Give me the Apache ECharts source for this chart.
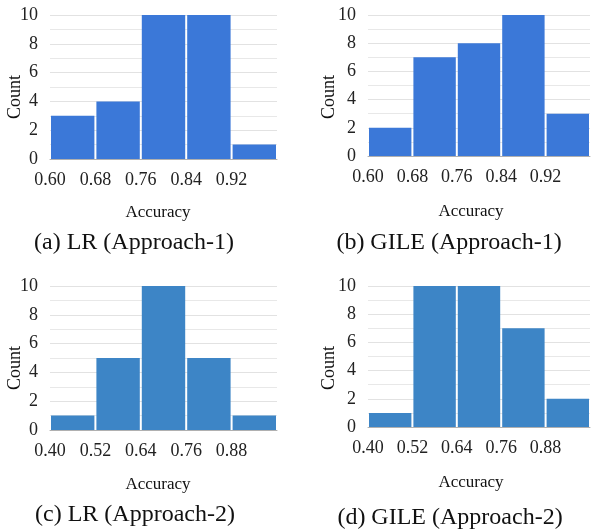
<!DOCTYPE html>
<html>
<head>
<meta charset="utf-8">
<script src="https://cdn.jsdelivr.net/npm/echarts@6/dist/echarts.min.js"></script>
<style>html,body{margin:0;padding:0;background:#fff}#c{width:593px;height:532px}</style>
</head>
<body>
<div id="c"></div>
<script>
// Tick labels (bin edges) and counts per panel
const edgesApproach1 = ['0.60', '0.68', '0.76', '0.84', '0.92', ''];
const edgesApproach2 = ['0.40', '0.52', '0.64', '0.76', '0.88', ''];
const countsLR1 = [3, 4, 10, 10, 1];
const countsGILE1 = [2, 7, 8, 10, 3];
const countsLR2 = [1, 5, 10, 5, 1];
const countsGILE2 = [1, 10, 10, 7, 2];
const captions = ['(a) LR (Approach-1)', '(b) GILE (Approach-1)', '(c) LR (Approach-2)', '(d) GILE (Approach-2)'];
const yTicks = [0, 2, 4, 6, 8, 10];

const colorA = '#3b78d8';
const colorB = '#3d85c6';
const font = '"Liberation Serif", "Times New Roman", serif';

const panels = [
  { counts: countsLR1, edges: edgesApproach1, color: colorA, grid: { left: 50, top: 15, width: 227, height: 144 } },
  { counts: countsGILE1, edges: edgesApproach1, color: colorA, grid: { left: 368, top: 15, width: 225, height: 141 } },
  { counts: countsLR2, edges: edgesApproach2, color: colorB, grid: { left: 50, top: 286, width: 227, height: 144 } },
  { counts: countsGILE2, edges: edgesApproach2, color: colorB, grid: { left: 368, top: 286, width: 225, height: 141 } }
];

const grids = [], xAxes = [], yAxes = [], series = [];
panels.forEach((p, i) => {
  grids.push(Object.assign({ containLabel: false }, p.grid));
  xAxes.push({
    type: 'value', gridIndex: i, min: 0, max: p.counts.length, interval: 1,
    axisLine: { show: true, lineStyle: { color: '#b0b0b0', width: 1 } },
    axisTick: { show: false }, splitLine: { show: false },
    axisLabel: {
      margin: 12, fontFamily: font, fontSize: 18, color: '#222',
      formatter: v => p.edges[Math.round(v)] || ''
    }
  });
  yAxes.push({
    type: 'value', gridIndex: i, min: yTicks[0], max: yTicks[yTicks.length - 1], interval: 2,
    axisLine: { show: false }, axisTick: { show: false },
    splitLine: { show: true, lineStyle: { color: '#e2e2e2', width: 1 } },
    minorTick: { show: false, splitNumber: 2 },
    minorSplitLine: { show: true, lineStyle: { color: '#e8e8e8', width: 1 } },
    axisLabel: { margin: 12, fontFamily: font, fontSize: 18, color: '#222' }
  });
  series.push({
    type: 'custom', xAxisIndex: i, yAxisIndex: i,
    data: p.counts.map((c, k) => [k, k + 1, c]),
    encode: { x: [0, 1], y: 2 },
    renderItem: (params, api) => {
      const a = api.coord([api.value(0), api.value(2)]);
      const b = api.coord([api.value(1), 0]);
      return {
        type: 'rect',
        shape: { x: a[0] + 1, y: a[1], width: b[0] - a[0] - 2, height: b[1] - a[1] },
        style: { fill: p.color }
      };
    }
  });
});

function txt(x, y, text, size, color, rot) {
  return {
    type: 'text', x: x, y: y, rotation: rot || 0,
    style: { text: text, fontFamily: font, fontSize: size, fill: color, align: 'center', verticalAlign: 'middle' }
  };
}

const graphics = [
  txt(15, 97, 'Count', 18, '#111', Math.PI / 2),
  txt(329, 97, 'Count', 18, '#111', Math.PI / 2),
  txt(15, 368, 'Count', 18, '#111', Math.PI / 2),
  txt(329, 368, 'Count', 18, '#111', Math.PI / 2),
  txt(158, 213, 'Accuracy', 17, '#111'),
  txt(471, 212, 'Accuracy', 17, '#111'),
  txt(158, 485, 'Accuracy', 17, '#111'),
  txt(471, 483, 'Accuracy', 17, '#111'),
  txt(134, 243, captions[0], 24, '#111'),
  txt(449, 243, captions[1], 24, '#111'),
  txt(135, 515, captions[2], 24, '#111'),
  txt(450, 518, captions[3], 24, '#111')
];

const chart = echarts.init(document.getElementById('c'), null, { renderer: 'canvas' });
chart.setOption({
  animation: false,
  grid: grids, xAxis: xAxes, yAxis: yAxes, series: series,
  graphic: graphics
});
</script>
</body>
</html>
